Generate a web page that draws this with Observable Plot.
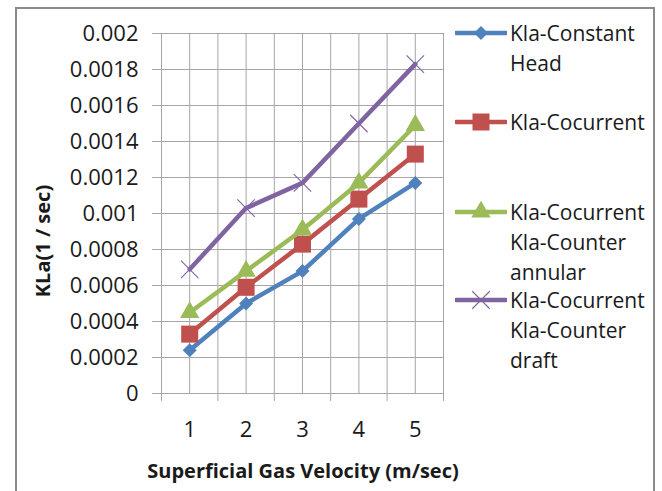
<!DOCTYPE html>
<html>
<head>
<meta charset="utf-8">
<script src="https://cdn.jsdelivr.net/npm/d3@7"></script>
<script src="https://cdn.jsdelivr.net/npm/@observablehq/plot@0.6"></script>
<style>
  html, body { margin: 0; padding: 0; background: #fff; }
  #chart { position: relative; width: 662px; height: 491px; overflow: hidden; font-family: "Open Sans", sans-serif; color: #1a1a1a; }
  #chart svg { position: absolute; left: 0; top: 0; }
  #frame { position: absolute; left: 15px; top: 7px; width: 636px; height: 500px; border: 2px solid #8a8a8a; border-bottom: none; }
  #ytitle { position: absolute; left: 42px; top: 241px; transform: translate(-50%, -50%) rotate(-90deg); font-weight: 700; font-size: 20px; white-space: nowrap; }
  #xtitle { position: absolute; left: 303px; top: 470px; transform: translate(-50%, -50%); font-weight: 700; font-size: 20px; white-space: nowrap; }
  .item { position: absolute; left: 455px; width: 200px; }
  .item svg { position: absolute; left: 0; top: 0; }
  .item .name { position: absolute; left: 55px; top: 0; width: 145px; font-size: 21px; line-height: 30px; }
</style>
</head>
<body>
<div id="chart">
  <div id="frame"></div>
</div>
<script>
// Superficial gas velocity (m/sec)
const velocity = [1, 2, 3, 4, 5];

// KLa (1/sec) for each reactor configuration
const constantHead = [0.00024, 0.0005, 0.00068, 0.00097, 0.00117];
const cocurrent = [0.00033, 0.00059, 0.00083, 0.00108, 0.00133];
const cocurrentAnnular = [0.00045, 0.00068, 0.00091, 0.00117, 0.00149];
const cocurrentDraft = [0.00069, 0.00103, 0.00117, 0.0015, 0.00183];

const seriesNames = [
  "Kla-Constant Head",
  "Kla-Cocurrent",
  "Kla-Cocurrent Kla-Counter annular",
  "Kla-Cocurrent Kla-Counter draft"
];
const seriesColors = ["#4F81BD", "#C0504D", "#9BBB59", "#8064A2"];
const seriesSymbols = ["diamond2", "square", "triangle", "times"];

const yTicks = [0, 0.0002, 0.0004, 0.0006, 0.0008, 0.001, 0.0012, 0.0014, 0.0016, 0.0018, 0.002];
const yTickLabels = ["0", "0.0002", "0.0004", "0.0006", "0.0008", "0.001", "0.0012", "0.0014", "0.0016", "0.0018", "0.002"];

const seriesValues = [constantHead, cocurrent, cocurrentAnnular, cocurrentDraft];
const rows = seriesNames.flatMap((name, s) =>
  velocity.map((v, i) => ({series: name, velocity: v, kla: seriesValues[s][i]}))
);

// category boundaries and centres both carry a vertical gridline
const boundaries = [velocity[0] - 0.5, ...velocity.map(v => v + 0.5)];
const xGrid = [...boundaries, ...velocity];

const markSize = [6.3, 9.6, 7.2, 8];

const marks = [
  Plot.gridX(xGrid, {stroke: "#a6a6a6", strokeOpacity: 1}),
  Plot.gridY(yTicks, {stroke: "#a6a6a6", strokeOpacity: 1}),
  Plot.axisY(yTicks, {tickSize: 9, tickFormat: () => "", color: "#a6a6a6", label: null}),
  Plot.axisY(yTicks, {tickSize: 0, tickPadding: 23, tickFormat: (d, i) => yTickLabels[i], color: "#1a1a1a", fontSize: 22, label: null}),
  Plot.axisX(boundaries, {tickSize: 8, tickFormat: () => "", color: "#a6a6a6", label: null}),
  Plot.axisX(velocity, {tickSize: 0, tickPadding: 28, color: "#1a1a1a", fontSize: 22, label: null})
];

seriesNames.forEach((name, s) => {
  const data = rows.filter(d => d.series === name);
  marks.push(Plot.line(data, {x: "velocity", y: "kla", stroke: seriesColors[s], strokeWidth: 4.5, strokeLinejoin: "round", strokeLinecap: "round"}));
  if (seriesSymbols[s] === "times") {
    marks.push(Plot.dot(data, {x: "velocity", y: "kla", symbol: "times", r: markSize[s], stroke: seriesColors[s], strokeWidth: 1.1, fill: "none"}));
  } else {
    marks.push(Plot.dot(data, {x: "velocity", y: "kla", symbol: seriesSymbols[s], r: markSize[s], fill: seriesColors[s], stroke: "none"}));
  }
});

const plot = Plot.plot({
  width: 662,
  height: 491,
  marginLeft: 161,
  marginRight: 219,
  marginTop: 33,
  marginBottom: 98,
  style: {fontFamily: "Open Sans, sans-serif", fontSize: "22px", background: "transparent"},
  x: {type: "linear", domain: [boundaries[0], boundaries[boundaries.length - 1]], axis: null},
  y: {type: "linear", domain: [yTicks[0], yTicks[yTicks.length - 1]], axis: null},
  marks
});

const chart = document.getElementById("chart");
chart.appendChild(plot);

const yTitle = document.createElement("div");
yTitle.id = "ytitle";
yTitle.textContent = "KLa(1 / sec)";
chart.appendChild(yTitle);

const xTitle = document.createElement("div");
xTitle.id = "xtitle";
xTitle.textContent = "Superficial Gas Velocity (m/sec)";
chart.appendChild(xTitle);

// legend: one entry per series, swatch line with its marker
const legendTops = [18, 107, 197, 285];
seriesNames.forEach((name, s) => {
  const item = document.createElement("div");
  item.className = "item";
  item.style.top = legendTops[s] + "px";
  const sym = d3.symbol(d3["symbol" + {diamond2: "Diamond2", square: "Square", triangle: "Triangle", times: "Times"}[seriesSymbols[s]]], Math.PI * markSize[s] * markSize[s])();
  const filled = seriesSymbols[s] !== "times";
  item.innerHTML =
    `<svg width="52" height="30"><line x1="1" x2="51" y1="15" y2="15" stroke="${seriesColors[s]}" stroke-width="4.5" stroke-linecap="round"/>` +
    `<path transform="translate(26,15)" d="${sym}" fill="${filled ? seriesColors[s] : "none"}" stroke="${filled ? "none" : seriesColors[s]}" stroke-width="1.1"/></svg>` +
    `<div class="name">${name}</div>`;
  chart.appendChild(item);
});
</script>
</body>
</html>
